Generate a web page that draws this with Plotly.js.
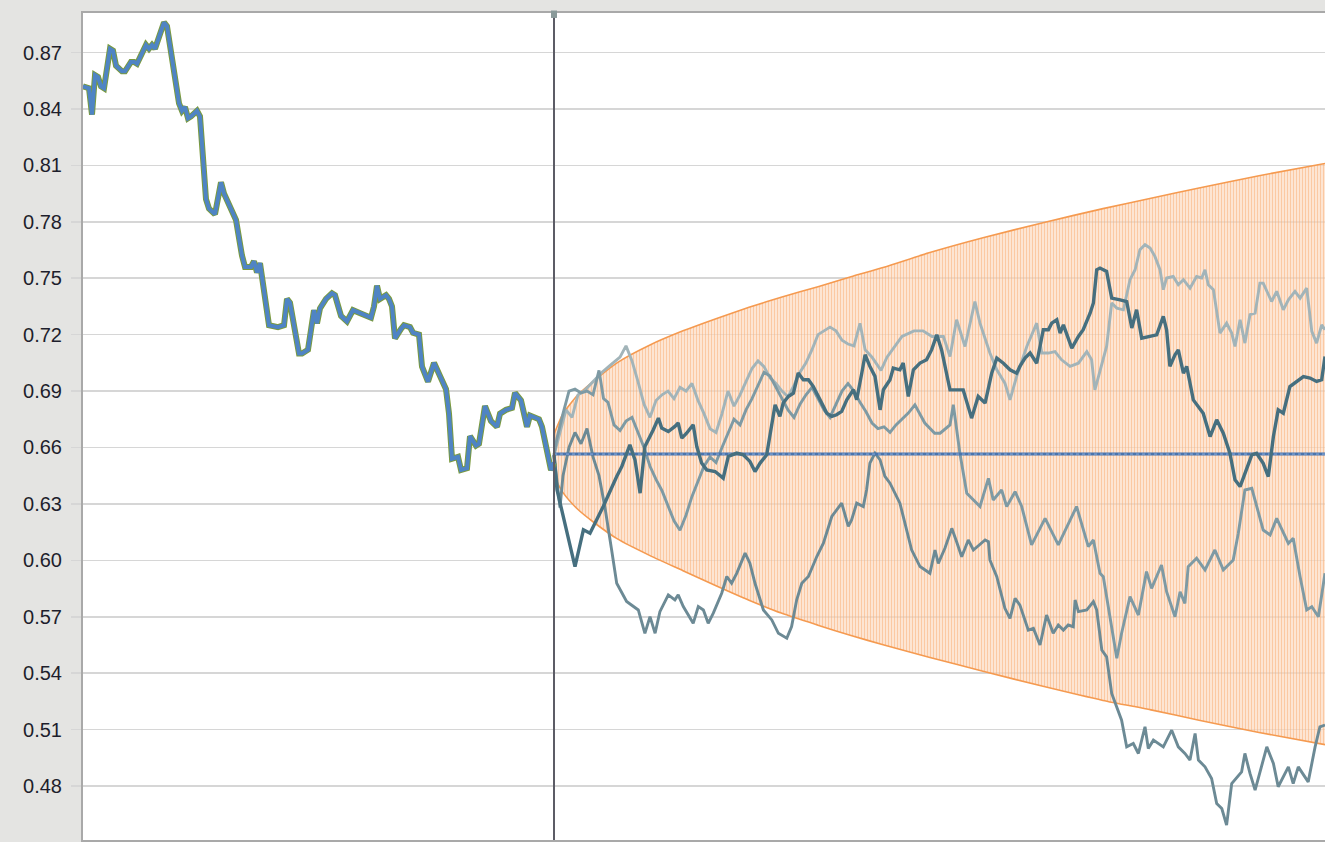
<!DOCTYPE html>
<html>
<head>
<meta charset="utf-8">
<script src="https://cdn.plot.ly/plotly-3.0.1.min.js"></script>
<style>
  html, body { margin: 0; padding: 0; background: #e4e4e2; }
  #chart { width: 1325px; height: 842px; }
</style>
</head>
<body>
<div id="chart"></div>
<script>
// ---------- data ----------
const yTicks = [0.48, 0.51, 0.54, 0.57, 0.60, 0.63, 0.66, 0.69, 0.72, 0.75, 0.78, 0.81, 0.84, 0.87];
const forecastStart = 157;
const lastDay = 414;

// historical series
const histX = [0,2,3,4,5,6,7,9,10,11,13,14,16,17,18,21,22,23,24,27,28,30,32,33,34,35,36,38,39,41,42,44,46,47,49,51,53,54,56,57,58,59,62,65,67,68,69,72,73,75,77,78,79,81,83,84,86,88,90,92,93,96,97,98,99,101,102,103,104,106,107,109,110,112,113,115,117,119,121,122,123,125,126,128,129,131,132,134,136,138,139,141,143,144,146,148,149,152,153,156,157];
const histY = [0.852,0.851,0.837,0.858,0.857,0.852,0.851,0.872,0.871,0.863,0.860,0.860,0.865,0.865,0.864,0.874,0.872,0.874,0.872,0.886,0.884,0.865,0.843,0.839,0.841,0.835,0.836,0.839,0.836,0.792,0.787,0.784,0.801,0.795,0.788,0.781,0.762,0.756,0.756,0.759,0.753,0.758,0.725,0.724,0.725,0.739,0.737,0.710,0.710,0.712,0.733,0.726,0.734,0.739,0.742,0.741,0.730,0.727,0.733,0.732,0.731,0.729,0.735,0.746,0.739,0.741,0.739,0.735,0.718,0.723,0.725,0.724,0.721,0.720,0.703,0.695,0.705,0.698,0.691,0.678,0.654,0.655,0.648,0.649,0.666,0.661,0.662,0.682,0.674,0.671,0.678,0.680,0.681,0.689,0.685,0.671,0.677,0.675,0.671,0.648,0.652];

// expected value (flat) line
const centerX = [157, 414];
const centerY = [0.6565, 0.6565];

// confidence cone
const coneX = [157,160,165,170,178,189,200,211,222,233,245,256,267,282,300,320,340,356,372,392,414];
const coneUpper = [0.667,0.678,0.688,0.695,0.705,0.7145,0.722,0.7285,0.7345,0.7400,0.7455,0.7508,0.7558,0.7635,0.7715,0.7795,0.7870,0.7925,0.7980,0.8045,0.8110];
const coneLower = [0.6445,0.636,0.627,0.6205,0.6115,0.6025,0.5945,0.5865,0.5788,0.5718,0.5655,0.5600,0.5550,0.5485,0.5410,0.5330,0.5255,0.5205,0.5150,0.5085,0.5020];

// simulated path 1 (dark)
const path1X = [157,158,164,166.8,169,171.2,173.4,177.9,179.6,182.3,184,185.7,187.3,190.1,191.8,192.9,195.1,197.3,198.4,199.6,201.2,203.4,204.6,206.2,207.9,210.7,213.4,215.1,217.9,220.1,222.3,224,225.7,227.9,229.6,230.7,232.3,233.4,235.1,236.8,238.4,240.1,241.8,243.4,245.7,247.9,249.6,251.2,252.9,254.6,256.8,257.9,259.6,260.7,262.3,264,265.7,266.8,269,270.1,272.3,273.4,275.1,276.8,279,281.2,282.9,284.6,286.2,289,293.4,296.2,298.4,300.7,302.9,304.6,306.8,309,311.2,312.3,314,315.7,317.9,319,320.1,321.8,322.9,324.6,325.7,326.8,327.9,329.6,331.8,333.4,335.7,336.8,337.9,339,341.2,342.9,345.7,347.9,349.6,351.2,352.9,355.7,357.9,360.1,361.2,362.3,364,365.1,366.8,367.9,370.1,373.4,375.7,377.9,380.1,382.3,384,385.7,387.3,389.6,391.2,393.4,395.1,396.8,398.4,400.1,402.3,404.6,406.8,409,411.2,412.9,414];
const path1Y = [0.656,0.6375,0.5967,0.6162,0.6144,0.6215,0.6286,0.6446,0.6499,0.6614,0.6534,0.6357,0.6605,0.6694,0.6756,0.6703,0.6685,0.6712,0.6730,0.6650,0.6676,0.6721,0.6605,0.6517,0.6481,0.6472,0.6437,0.6552,0.6570,0.6561,0.6526,0.6472,0.6517,0.6561,0.6730,0.6827,0.6765,0.6836,0.6871,0.6889,0.6996,0.6960,0.6960,0.6925,0.6854,0.6783,0.6765,0.6774,0.6792,0.6854,0.6907,0.6854,0.6996,0.7093,0.7031,0.6978,0.6800,0.6907,0.6960,0.7022,0.7013,0.7049,0.6871,0.7013,0.7049,0.7067,0.7120,0.7199,0.7119,0.6906,0.6906,0.6756,0.6871,0.6836,0.6995,0.7075,0.7048,0.7013,0.6995,0.7031,0.7075,0.7102,0.7048,0.7137,0.7226,0.7226,0.7261,0.7279,0.7208,0.7252,0.7208,0.7128,0.7190,0.7226,0.7314,0.7368,0.7545,0.7554,0.7536,0.7394,0.7385,0.7376,0.7235,0.7332,0.7181,0.7190,0.7199,0.7297,0.7226,0.7031,0.7093,0.7119,0.6995,0.7031,0.6853,0.6782,0.6658,0.6747,0.6676,0.6569,0.6428,0.6392,0.6463,0.6561,0.6569,0.6516,0.6445,0.6658,0.6800,0.6782,0.6924,0.6951,0.6977,0.6969,0.6951,0.6960,0.7084];

// simulated path 2 (light)
const path2X = [157,159,161,163,165,167,170,173,176,179,181,183,185,187,189,191,193,195,197,199,201,203,205,207,209,211,213,215,217,219,221,223,225,227,229,231,233,235,237,239,241,243,245,247,249,251,253,255,257,259,260.7,263,266,268,271,273,277,280,283,286.8,289,291.2,294,297.3,299,302.3,304.6,307.3,309,311.2,314.6,317.9,319.6,321.8,324,326.2,329,331.8,334.6,336.2,337.3,339,341.2,342.9,344.6,346.8,349,350.7,352.3,354,355.7,357.3,359,360.1,361.2,363.4,365.1,366.8,369,371.2,372.9,374,375.1,376.8,379,381.2,382.9,384,385.7,387.3,389,390.7,392.3,393.4,395.1,396.2,397.9,400.1,401.8,404,405.7,407.9,409.6,411.2,412.9,414];
const path2Y = [0.656,0.668,0.680,0.676,0.688,0.690,0.695,0.700,0.704,0.708,0.714,0.706,0.695,0.683,0.676,0.685,0.688,0.690,0.686,0.692,0.690,0.694,0.685,0.678,0.670,0.668,0.678,0.690,0.682,0.688,0.695,0.702,0.706,0.703,0.697,0.694,0.690,0.687,0.693,0.700,0.705,0.712,0.720,0.722,0.724,0.722,0.717,0.715,0.714,0.726,0.712,0.708,0.701,0.708,0.715,0.719,0.722,0.722,0.719,0.7190,0.7084,0.7279,0.7137,0.7376,0.7261,0.7102,0.7013,0.6942,0.6853,0.6977,0.7137,0.7261,0.7102,0.7102,0.7110,0.7066,0.7031,0.7048,0.7110,0.7066,0.6906,0.7013,0.7137,0.7368,0.7341,0.7332,0.7492,0.7545,0.7651,0.7678,0.7660,0.7616,0.7545,0.7439,0.7501,0.7509,0.7465,0.7492,0.7447,0.7509,0.7501,0.7545,0.7465,0.7439,0.7208,0.7261,0.7208,0.7137,0.7279,0.7155,0.7306,0.7314,0.7474,0.7474,0.7412,0.7376,0.7430,0.7332,0.7385,0.7430,0.7394,0.7447,0.7217,0.7155,0.7252,0.7226];

// simulated path 3 (medium)
const path3X = [157,158,160,162,164,166,168,170,172,173.5,175,177,179,181,183,185,187,189,191,193,195,197,199,201,203,205,207,209,211,213,215,217,219,221,223,225,227,229,231,233,235,237,239,241,243,245,247,249,251,253,255,257,259,261,263,265,267,269,271,273,275.1,277.3,280.6,283.9,285.7,289,290.1,292.3,294.6,299,301.8,303.4,306.2,307.9,310.7,312.9,316.2,320.7,325.1,331.2,335.1,336.8,339,340.1,342.3,344.6,346.2,349,351.8,354.5,356.2,359.5,361.2,364,365.7,367.3,368.4,371.2,374,377.3,380.1,383.4,385.1,387.3,389.6,391.8,393.4,395.7,397.9,401.8,403.4,405.7,407.9,409.6,411.8,414];
const path3Y = [0.656,0.665,0.678,0.690,0.691,0.689,0.690,0.688,0.701,0.686,0.684,0.672,0.669,0.674,0.676,0.668,0.660,0.650,0.643,0.637,0.629,0.621,0.616,0.624,0.634,0.642,0.650,0.655,0.652,0.660,0.668,0.675,0.672,0.680,0.686,0.693,0.700,0.698,0.692,0.686,0.680,0.676,0.683,0.688,0.692,0.686,0.680,0.676,0.683,0.690,0.694,0.690,0.684,0.679,0.673,0.670,0.671,0.668,0.672,0.675,0.6783,0.6827,0.6730,0.6676,0.6676,0.6720,0.6827,0.6569,0.6357,0.6286,0.6436,0.6321,0.6374,0.6286,0.6365,0.6286,0.6082,0.6223,0.6082,0.6286,0.6073,0.6108,0.5931,0.5913,0.5700,0.5479,0.5612,0.5807,0.5709,0.5940,0.5851,0.5975,0.5833,0.5700,0.5833,0.5771,0.5966,0.6011,0.5949,0.6055,0.5949,0.6002,0.6144,0.6374,0.6383,0.6250,0.6161,0.6135,0.6223,0.6090,0.6117,0.5913,0.5736,0.5753,0.5700,0.5931];

// simulated path 4 (lowest)
const path4X = [157,158,159,160,162,164,166,168,170,172,174,176.2,177.9,181.2,185.1,187.3,189,190.7,192.3,195.1,197.3,198.4,200.1,203.4,205.1,206.8,208.4,210.1,212.9,214.6,216.2,217.9,220.7,222.3,224,226.8,229.6,231.8,234.6,236.2,237.9,239.6,241.8,244.6,246.8,249.6,251.2,252.9,255.1,256.2,257.9,260.1,261.2,262.3,264,265.7,267.3,269,272.3,276.2,279,282.3,284,285.1,287.3,289.6,291.2,292.9,295.1,296.8,300.7,301.8,302.3,304.6,307.3,309,310.7,312.3,315.1,316.8,319,321.2,323.4,325.1,326.8,328.4,330.1,330.7,331.8,334.6,336.8,337.9,339.6,341.2,342.9,344.6,346.2,347.9,350.1,351.8,354,355.1,356.8,360.1,362.9,365.1,367.3,369,370.7,371.8,374,376.2,377.9,379.6,381.2,382.9,386.2,387.3,389,390.7,394.6,396.8,398.4,401.8,403.4,405.1,408.4,410.7,412.3,414];
const path4Y = [0.656,0.640,0.628,0.645,0.660,0.668,0.662,0.670,0.655,0.645,0.628,0.6056,0.5878,0.5781,0.5736,0.5612,0.5701,0.5612,0.5727,0.5816,0.5790,0.5816,0.5754,0.5665,0.5754,0.5736,0.5665,0.5719,0.5825,0.5914,0.5878,0.5931,0.6038,0.5985,0.5878,0.5736,0.5683,0.5612,0.5586,0.5648,0.5790,0.5878,0.5914,0.6020,0.6091,0.6233,0.6268,0.6304,0.6180,0.6215,0.6304,0.6286,0.6375,0.6517,0.6570,0.6534,0.6446,0.6410,0.6304,0.6056,0.5967,0.5931,0.6055,0.5984,0.6064,0.6170,0.6099,0.6019,0.6108,0.6055,0.6108,0.6099,0.6002,0.5913,0.5745,0.5691,0.5798,0.5762,0.5629,0.5638,0.5550,0.5709,0.5612,0.5656,0.5629,0.5656,0.5647,0.5789,0.5727,0.5736,0.5780,0.5736,0.5523,0.5487,0.5292,0.5221,0.5150,0.5008,0.5026,0.4973,0.5115,0.4999,0.5044,0.5008,0.5097,0.5008,0.4973,0.4938,0.5079,0.4938,0.4902,0.4840,0.4707,0.4680,0.4592,0.4813,0.4875,0.4973,0.4867,0.4778,0.5008,0.4920,0.4796,0.4902,0.4813,0.4902,0.4822,0.5008,0.5115,0.5124];

// ---------- traces ----------
const orange = '#f59a50';
const traces = [
  { x: coneX, y: coneUpper, type: 'scatter', mode: 'lines', line: { color: orange, width: 1.6, shape: 'spline', smoothing: 0.6 },
    hoverinfo: 'skip', showlegend: false },
  { x: coneX, y: coneLower, type: 'scatter', mode: 'lines', fill: 'tonexty',
    fillcolor: 'rgba(251,205,168,0.6)',
    fillpattern: { shape: '|', size: 3, solidity: 0.5, fgcolor: 'rgba(247,170,110,0.55)', bgcolor: 'rgba(253,228,206,0.6)' },
    line: { color: orange, width: 1.6, shape: 'spline', smoothing: 0.6 }, hoverinfo: 'skip', showlegend: false },
  { x: path2X, y: path2Y, type: 'scatter', mode: 'lines',
    line: { color: '#a2b4b9', width: 2.9 }, showlegend: false },
  { x: path3X, y: path3Y, type: 'scatter', mode: 'lines',
    line: { color: '#7e9aa4', width: 2.9 }, showlegend: false },
  { x: path4X, y: path4Y, type: 'scatter', mode: 'lines',
    line: { color: '#6c8a95', width: 2.9 }, showlegend: false },
  { x: centerX, y: centerY, type: 'scatter', mode: 'lines',
    line: { color: '#4a74ad', width: 3 }, showlegend: false },
  { x: centerX, y: centerY, type: 'scatter', mode: 'lines',
    line: { color: '#8fb0dc', width: 1, dash: 'dot' }, showlegend: false },
  { x: path1X, y: path1Y, type: 'scatter', mode: 'lines',
    line: { color: '#466f7f', width: 3.4 }, showlegend: false },
  { x: histX, y: histY, type: 'scatter', mode: 'lines',
    line: { color: '#7a9a3e', width: 6 }, showlegend: false },
  { x: histX, y: histY, type: 'scatter', mode: 'lines',
    line: { color: '#4f84c4', width: 4 }, showlegend: false }
];

const layout = {
  width: 1325, height: 842,
  margin: { l: 83, r: 0, t: 13, b: 2 },
  paper_bgcolor: '#e4e4e2',
  plot_bgcolor: '#ffffff',
  showlegend: false,
  font: { family: 'Liberation Sans, Arial, sans-serif', size: 20, color: '#1e1e2c' },
  xaxis: {
    range: [0, lastDay], showticklabels: false, showgrid: false, zeroline: false,
    showline: true, mirror: true, linecolor: '#a9a9a9', linewidth: 2, ticks: ''
  },
  yaxis: {
    range: [0.4513, 0.8910], tickmode: 'array', tickvals: yTicks,
    ticktext: yTicks.map(v => v.toFixed(2)),
    showgrid: true, gridcolor: '#d6d6d6', gridwidth: 1.6, zeroline: false,
    showline: true, linecolor: '#a9a9a9', linewidth: 2,
    ticks: 'outside', ticklen: 10, tickcolor: '#d6d6d6', tickwidth: 1.6,
    ticklabelstandoff: 5
  },
  shapes: [
    { type: 'line', xref: 'x', yref: 'paper', x0: forecastStart, x1: forecastStart, y0: 0, y1: 1,
      line: { color: '#5c5c66', width: 2 } },
    { type: 'rect', xref: 'x', yref: 'paper', x0: forecastStart - 1, x1: forecastStart + 1, y0: 0.994, y1: 1.003,
      fillcolor: '#8a9a9a', line: { width: 0 } }
  ]
};

Plotly.newPlot('chart', traces, layout, { staticPlot: true, displayModeBar: false });
</script>
</body>
</html>
